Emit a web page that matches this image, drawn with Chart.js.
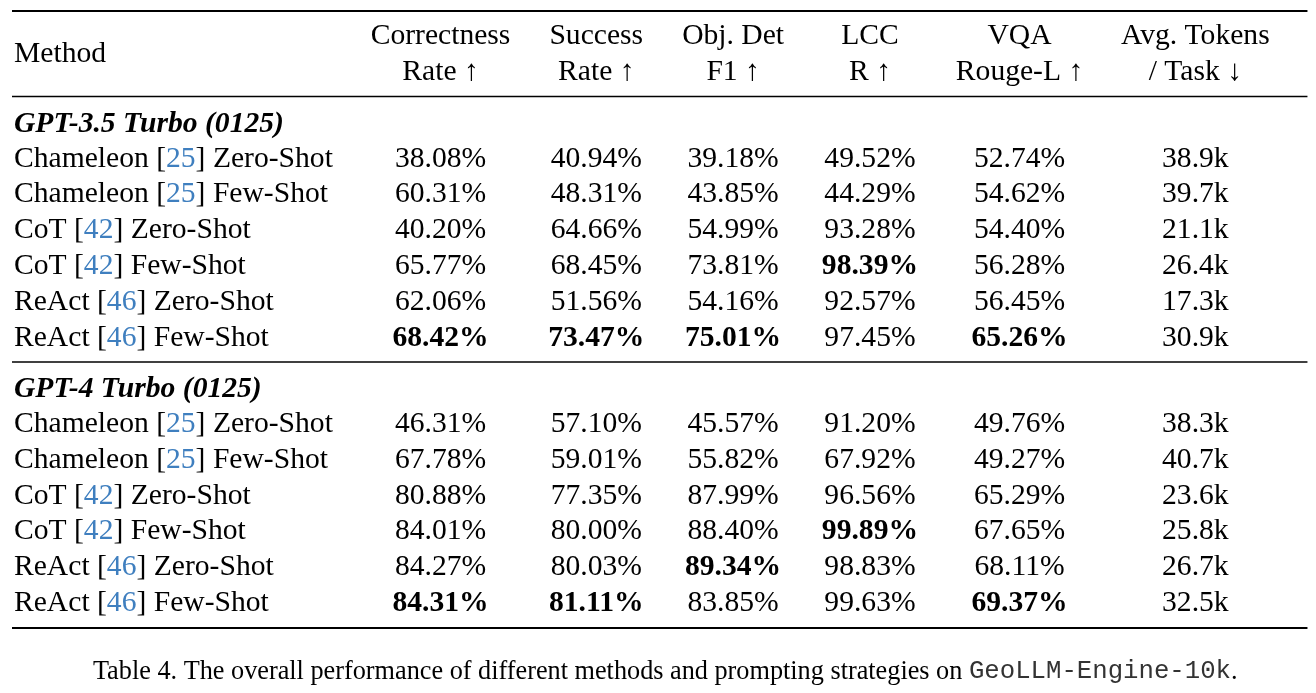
<!DOCTYPE html>
<html>
<head>
<meta charset="utf-8">
<script src="https://cdn.jsdelivr.net/npm/chart.js@4.4.1/dist/chart.umd.min.js"></script>
<style>
html, body { margin: 0; padding: 0; background: #fff; }
</style>
</head>
<body>
<canvas id="tabla" width="1316" height="693"></canvas>
<script>
// datos de la tabla
var headerTop = ['Method', 'Correctness', 'Success', 'Obj. Det', 'LCC', 'VQA', 'Avg. Tokens'];
var headerBottom = ['', 'Rate \u2191', 'Rate \u2191', 'F1 \u2191', 'R \u2191', 'Rouge-L \u2191', '/ Task \u2193'];
var groups = ['GPT-3.5 Turbo (0125)', 'GPT-4 Turbo (0125)'];
var methods = ['Chameleon', 'Chameleon', 'CoT', 'CoT', 'ReAct', 'ReAct'];
var citations = ['25', '25', '42', '42', '46', '46'];
var prompting = ['Zero-Shot', 'Few-Shot', 'Zero-Shot', 'Few-Shot', 'Zero-Shot', 'Few-Shot'];

var gpt35Correctness = [38.08, 60.31, 40.20, 65.77, 62.06, 68.42];
var gpt35Success = [40.94, 48.31, 64.66, 68.45, 51.56, 73.47];
var gpt35ObjDet = [39.18, 43.85, 54.99, 73.81, 54.16, 75.01];
var gpt35Lcc = [49.52, 44.29, 93.28, 98.39, 92.57, 97.45];
var gpt35Vqa = [52.74, 54.62, 54.40, 56.28, 56.45, 65.26];
var gpt35Tokens = [38.9, 39.7, 21.1, 26.4, 17.3, 30.9];

var gpt4Correctness = [46.31, 67.78, 80.88, 84.01, 84.27, 84.31];
var gpt4Success = [57.10, 59.01, 77.35, 80.00, 80.03, 81.11];
var gpt4ObjDet = [45.57, 55.82, 87.99, 88.40, 89.34, 83.85];
var gpt4Lcc = [91.20, 67.92, 96.56, 99.89, 98.83, 99.63];
var gpt4Vqa = [49.76, 49.27, 65.29, 67.65, 68.11, 69.37];
var gpt4Tokens = [38.3, 40.7, 23.6, 25.8, 26.7, 32.5];

var captionText = 'Table 4. The overall performance of different methods and prompting strategies on ';
var captionCode = 'GeoLLM-Engine-10k';

// estilo
var W = 1316, H = 693;
var SERIF = "'Liberation Serif', 'Times New Roman', serif";
var MONO = "'Liberation Mono', 'Courier New', monospace";
var SIZE = 29.6;
var CAP_SIZE = 26.25;
var CODE_SIZE = 25.7;
var SEP = 18.9;
var ROW = 35.8;
var BLUE = '#3f7fbf';

function font(size, style, fam) { return (style || '') + ' ' + size + 'px ' + (fam || SERIF); }
var normal = font(SIZE), bold = font(SIZE, 'bold'), boldItalic = font(SIZE, 'italic bold');

var mctx = document.createElement('canvas').getContext('2d');
function runsWidth(runs) {
    var w = 0;
    runs.forEach(function (r) { mctx.font = r.font; w += mctx.measureText(r.text).width; });
    return w;
}

var metricSets = [
    [gpt35Correctness, gpt35Success, gpt35ObjDet, gpt35Lcc, gpt35Vqa, gpt35Tokens],
    [gpt4Correctness, gpt4Success, gpt4ObjDet, gpt4Lcc, gpt4Vqa, gpt4Tokens]
];

function methodRuns(i) {
    return [
        { text: methods[i] + ' [', font: normal, color: '#000' },
        { text: citations[i], font: normal, color: BLUE },
        { text: '] ' + prompting[i], font: normal, color: '#000' }
    ];
}
function valueRuns(set, c, i) {
    var arr = set[c];
    if (c === 5) return [{ text: arr[i].toFixed(1) + 'k', font: normal, color: '#000' }];
    var best = Math.max.apply(null, arr);
    return [{ text: arr[i].toFixed(2) + '%', font: arr[i] === best ? bold : normal, color: '#000' }];
}

// anchos de columna
var nCols = headerTop.length;
var colW = [];
for (var c = 0; c < nCols; c++) {
    var w = Math.max(runsWidth([{ text: headerTop[c], font: normal }]), runsWidth([{ text: headerBottom[c], font: normal }]));
    metricSets.forEach(function (set) {
        for (var i = 0; i < methods.length; i++) {
            var r = c === 0 ? methodRuns(i) : valueRuns(set, c - 1, i);
            w = Math.max(w, runsWidth(r));
        }
    });
    colW.push(w);
}
var left0 = 14;
var centers = [left0];
var right = left0 + colW[0];
for (var c = 1; c < nCols; c++) {
    var l = right + 2 * SEP;
    centers.push(l + colW[c] / 2);
    right = l + colW[c];
}
var ruleLeft = left0 - 2, ruleRight = right + 2 * SEP;

// filas
var cells = [];
var rules = [];
var y = 11;
rules.push({ y: y, w: 2.2 });
var h1 = y + 23, h2 = h1 + 36.5;
for (var c = 0; c < nCols; c++) {
    if (c === 0) {
        cells.push({ x: left0, y: (h1 + h2) / 2, runs: [{ text: headerTop[0], font: normal, color: '#000' }], align: 'left' });
    } else {
        cells.push({ x: centers[c], y: h1, runs: [{ text: headerTop[c], font: normal, color: '#000' }], align: 'center' });
        cells.push({ x: centers[c], y: h2, runs: [{ text: headerBottom[c], font: normal, color: '#000' }], align: 'center' });
    }
}
y = h2 + 26;
metricSets.forEach(function (set, g) {
    rules.push({ y: y, w: 1.3 });
    y += 25.5;
    cells.push({ x: left0, y: y, runs: [{ text: groups[g], font: boldItalic, color: '#000' }], align: 'left' });
    y += 35;
    for (var i = 0; i < methods.length; i++) {
        cells.push({ x: left0, y: y, runs: methodRuns(i), align: 'left' });
        for (var c = 1; c < nCols; c++) {
            cells.push({ x: centers[c], y: y, runs: valueRuns(set, c - 1, i), align: 'center' });
        }
        if (i < methods.length - 1) y += ROW;
    }
    y += 26;
});
rules[rules.length] = { y: y - 26 + 26.5, w: 2.2 };
var capY = y + 42;
var capFont = font(CAP_SIZE);
cells.push({
    x: (ruleLeft + ruleRight) / 2 + 5.5, y: capY, align: 'center', runs: [
        { text: captionText, font: capFont, color: '#000' },
        { text: captionCode, font: font(CODE_SIZE, '', MONO), color: '#333' },
        { text: '.', font: capFont, color: '#000' }
    ]
});

// dibujo del texto de cada celda
var cellTextPlugin = {
    id: 'cellText',
    afterDatasetsDraw: function (chart) {
        var ctx = chart.ctx;
        chart.data.datasets.forEach(function (ds, di) {
            if (!ds.isCells) return;
            chart.getDatasetMeta(di).data.forEach(function (pt, i) {
                var cell = ds.data[i];
                var total = runsWidth(cell.runs);
                var x = cell.align === 'center' ? pt.x - total / 2 : pt.x;
                ctx.save();
                ctx.textBaseline = 'alphabetic';
                ctx.textAlign = 'left';
                cell.runs.forEach(function (r) {
                    ctx.font = r.font;
                    var capH = ctx.measureText('H').actualBoundingBoxAscent;
                    ctx.fillStyle = r.color;
                    ctx.fillText(r.text, x, pt.y + capH / 2);
                    x += ctx.measureText(r.text).width;
                });
                ctx.restore();
            });
        });
    }
};

var datasets = rules.map(function (r) {
    return {
        data: [{ x: ruleLeft, y: r.y }, { x: ruleRight, y: r.y }],
        showLine: true, borderColor: '#000', borderWidth: r.w, pointRadius: 0
    };
});
datasets.push({ isCells: true, data: cells, pointRadius: 0 });

var ctx = document.getElementById('tabla').getContext('2d');
var tabla = new Chart(ctx, {
    type: 'scatter',
    data: { datasets: datasets },
    options: {
        responsive: false,
        animation: false,
        events: [],
        layout: { padding: 0 },
        plugins: { legend: { display: false }, tooltip: { enabled: false } },
        scales: {
            x: { type: 'linear', display: false, min: 0, max: W },
            y: { type: 'linear', display: false, min: 0, max: H, reverse: true }
        }
    },
    plugins: [cellTextPlugin]
});
</script>
</body>
</html>
